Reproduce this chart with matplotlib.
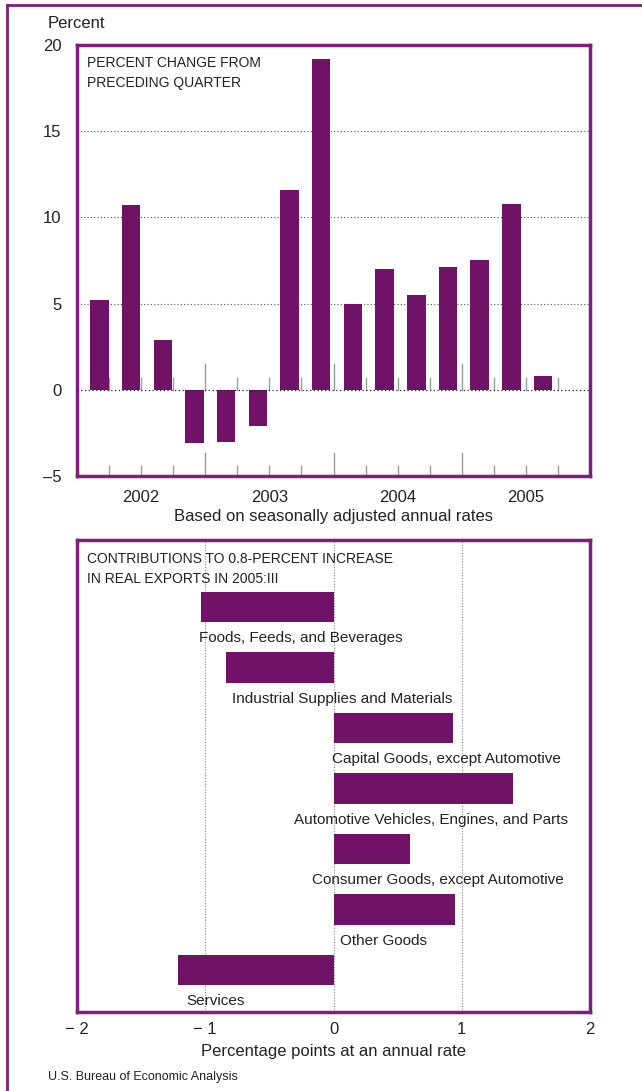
import matplotlib
matplotlib.use("Agg")
import matplotlib.pyplot as plt
from matplotlib.lines import Line2D
import numpy as np

# ---- data ----
quarters = ["2002:I", "2002:II", "2002:III", "2002:IV",
            "2003:I", "2003:II", "2003:III", "2003:IV",
            "2004:I", "2004:II", "2004:III", "2004:IV",
            "2005:I", "2005:II", "2005:III"]
pct_change = [5.2, 10.7, 2.9, -3.1, -3.0, -2.1, 11.6, 19.2,
              5.0, 7.0, 5.5, 7.1, 7.5, 10.8, 0.8]
years = ["2002", "2003", "2004", "2005"]
y_ticks_top = [-5, 0, 5, 10, 15, 20]

categories = ["Foods, Feeds, and Beverages",
              "Industrial Supplies and Materials",
              "Capital Goods, except Automotive",
              "Automotive Vehicles, Engines, and Parts",
              "Consumer Goods, except Automotive",
              "Other Goods",
              "Services"]
contributions = [-1.03, -0.84, 0.93, 1.40, 0.60, 0.95, -1.21]
x_ticks_bottom = [-2, -1, 0, 1, 2]

# ---- style ----
PURPLE = "#701367"
FRAME = "#7d1f7b"
GREY = "#9a9a9a"
NARROW = ["Liberation Sans Narrow", "Liberation Sans", "DejaVu Sans"]
plt.rcParams["font.family"] = ["Liberation Sans", "DejaVu Sans"]

fig = plt.figure(figsize=(6.42, 10.91), dpi=100)

# outer frame lines
fig.add_artist(Line2D([7/642, 7/642], [0, 1 - 5/1091], transform=fig.transFigure,
                      color=FRAME, lw=2))
fig.add_artist(Line2D([7/642, 1], [1 - 5/1091, 1 - 5/1091], transform=fig.transFigure,
                      color=FRAME, lw=2))

# ---------- top chart ----------
ax1 = fig.add_axes([77/642, 1 - 476/1091, 513/642, 431/1091])
n = len(pct_change)
xc = 0.70 + np.arange(n) * 0.988
ax1.bar(xc, pct_change, width=0.58, color=PURPLE, zorder=3)
ax1.set_xlim(0, 16)
ax1.set_ylim(-5, 20)
for v in [5, 10, 15]:
    ax1.axhline(v, color="#555555", lw=0.8, ls=(0, (1, 2)), zorder=1)
ax1.axhline(0, color="#222222", lw=0.9, ls=(0, (1, 2)), zorder=4)
for k in range(1, 16):
    major = (k % 4 == 0)
    ax1.plot([k, k], [0, 1.5 if major else 0.7], color=GREY, lw=1, zorder=2)
    ax1.plot([k, k], [-5, -5 + (1.35 if major else 0.6)], color=GREY, lw=1, zorder=2)
ax1.set_yticks(y_ticks_top)
ax1.set_yticklabels([("\u2013" + str(-t)) if t < 0 else str(t) for t in y_ticks_top],
                    fontsize=12)
ax1.set_xticks([2, 6, 10, 14])
ax1.set_xticklabels(years, fontsize=12)
ax1.tick_params(axis="x", length=0, pad=10, colors="#222222")
ax1.tick_params(axis="y", length=0, pad=11, colors="#222222")
for s in ax1.spines.values():
    s.set_color(FRAME)
    s.set_linewidth(2.5)
ax1.set_xlabel("Based on seasonally adjusted annual rates", fontsize=12,
               labelpad=3, color="#222222")
ax1.text(0.02, 0.975, "PERCENT CHANGE FROM\nPRECEDING QUARTER", transform=ax1.transAxes,
         ha="left", va="top", fontsize=10, family=NARROW, linespacing=1.55,
         color="#222222")
fig.text(48/642, 1 - 23/1091, "Percent", ha="left", va="center", fontsize=12,
         color="#222222")

# ---------- bottom chart ----------
ax2 = fig.add_axes([77/642, 1 - 1012/1091, 513/642, 472/1091])
yp = np.arange(len(categories))
ax2.barh(yp, contributions, height=0.51, color=PURPLE, zorder=3)
ax2.set_xlim(-2, 2)
ax2.set_ylim(6.694, -1.107)
for v in [-1, 0, 1]:
    ax2.axvline(v, color="#888888", lw=0.8, ls=(0, (1, 1.5)), zorder=1)
label_x = [-1.05, -0.79, -0.01, -0.31, -0.17, 0.05, -1.15]
for i, (cat, lx) in enumerate(zip(categories, label_x)):
    ax2.text(lx, i + 0.52, cat, ha="left", va="center", fontsize=11,
             color="#222222", zorder=5)
ax2.set_yticks([])
ax2.set_xticks(x_ticks_bottom)
ax2.set_xticklabels([("\u2212 " + str(-t)) if t < 0 else str(t) for t in x_ticks_bottom],
                    fontsize=12)
ax2.tick_params(axis="x", length=0, pad=7, colors="#222222")
for s in ax2.spines.values():
    s.set_color(FRAME)
    s.set_linewidth(2.5)
ax2.set_xlabel("Percentage points at an annual rate", fontsize=12, labelpad=5,
               color="#222222")
ax2.text(0.02, 0.975, "CONTRIBUTIONS TO 0.8-PERCENT INCREASE\nIN REAL EXPORTS IN 2005:III",
         transform=ax2.transAxes, ha="left", va="top", fontsize=10, family=NARROW,
         linespacing=1.55, color="#222222")

fig.text(48/642, 1 - 1077/1091, "U.S. Bureau of Economic Analysis", ha="left",
         va="center", fontsize=9, family=NARROW, color="#222222")

fig.savefig("out.png", dpi=100)
